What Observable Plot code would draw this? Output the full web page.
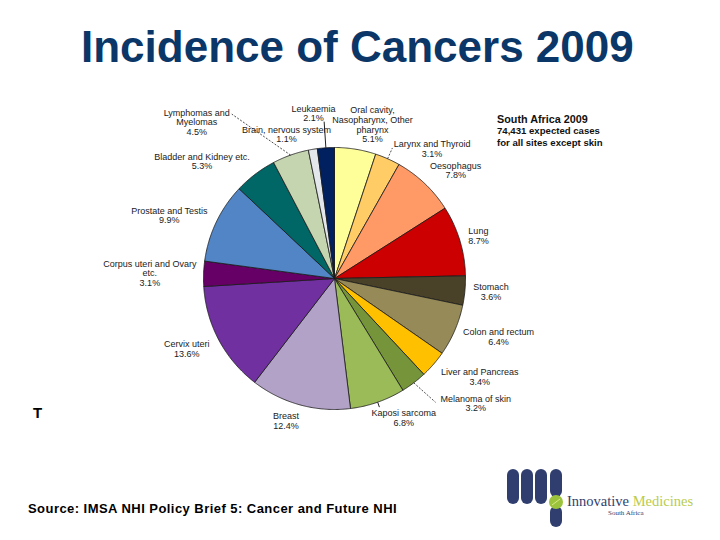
<!DOCTYPE html>
<html>
<head>
<meta charset="utf-8">
<script src="https://cdn.jsdelivr.net/npm/d3@7"></script>
<script src="https://cdn.jsdelivr.net/npm/@observablehq/plot@0.6"></script>
<style>
  html, body { margin: 0; padding: 0; background: #fff; }
  #page { position: relative; width: 720px; height: 540px; overflow: hidden; font-family: "Liberation Sans", Arial, sans-serif; }
  #title { position: absolute; left: 0; top: 0; width: 720px; height: 90px; }
  #title div { position: absolute; left: 81px; top: 22px; font-size: 44px; font-weight: bold; color: #0b3768; white-space: nowrap; }
  #chart { position: absolute; left: 0; top: 90px; }
  #note { position: absolute; left: 497px; top: 113px; color: #111; font-weight: bold; line-height: 12px; }
  #note .l1 { font-size: 10.8px; }
  #note .l2 { font-size: 9.6px; }
  #tmark { position: absolute; left: 33px; top: 404px; font-size: 15px; font-weight: bold; color: #000; }
  #source { position: absolute; left: 28px; top: 501px; font-size: 13px; letter-spacing: 0.45px; font-weight: bold; color: #000; white-space: nowrap; }
  #logo { position: absolute; left: 500px; top: 462px; }
</style>
</head>
<body>
<div id="page">
  <div id="title"><div>Incidence of Cancers 2009</div></div>
  <div id="chart"></div>
  <div id="note"><div class="l1">South Africa 2009</div><div class="l2">74,431 expected cases</div><div class="l2">for all sites except skin</div></div>
  <div id="tmark">T</div>
  <div id="source">Source: IMSA NHI Policy Brief 5: Cancer and Future NHI</div>
  <div id="logo">
    <svg width="220" height="70" viewBox="0 0 220 70">
      <rect x="7" y="7" width="12" height="35" rx="6" fill="#2f3e6e"/>
      <rect x="21" y="7" width="12" height="35" rx="6" fill="#2f3e6e"/>
      <rect x="35" y="7" width="12" height="35" rx="6" fill="#2f3e6e"/>
      <rect x="50" y="7" width="12" height="28" rx="6" fill="#2f3e6e"/>
      <rect x="50" y="44" width="12" height="21" rx="6" fill="#2f3e6e"/>
      <circle cx="56" cy="40" r="7" fill="#9cc33c"/>
      <line x1="52" y1="43" x2="60" y2="37" stroke="#d9ea8a" stroke-width="1"/>
      <text x="67" y="44" font-family="Liberation Serif, serif" font-size="14.5" fill="#2f3e6e">Innovative <tspan fill="#b9cc4e">Medicines</tspan></text>
      <text x="108" y="53" font-family="Liberation Serif, serif" font-size="7" fill="#2f3e6e">South Africa</text>
    </svg>
  </div>
</div>
<script>
// ---- data (clockwise from 12 o'clock) ----
const sites = [
  "Oral cavity,\nNasopharynx, Other\npharynx", "Larynx and Thyroid", "Oesophagus", "Lung",
  "Stomach", "Colon and rectum", "Liver and Pancreas", "Melanoma of skin",
  "Kaposi sarcoma", "Breast", "Cervix uteri", "Corpus uteri and Ovary\netc.",
  "Prostate and Testis", "Bladder and Kidney etc.", "Lymphomas and\nMyelomas",
  "Brain, nervous system", "Leukaemia"
];
const percents = [5.1, 3.1, 7.8, 8.7, 3.6, 6.4, 3.4, 3.2, 6.8, 12.4, 13.6, 3.1, 9.9, 5.3, 4.5, 1.1, 2.1];
const sliceColors = [
  "#ffff99", "#ffcc66", "#ff9966", "#cc0000", "#4a4129", "#968b58", "#ffc000", "#76953a",
  "#9bbb59", "#b3a2c7", "#7030a0", "#660066", "#5285c5", "#006666", "#c4d5b0", "#e3e6ea", "#002060"
];

// ---- label layout: angular shift (deg) from slice mid-angle and distance (in radii) ----
const labelShift = [4.7, 13, 4.7, 0.4, -0.3, -3.6, -6.7, -11.3, -7.1, 3.5, 2.4, -0.4, -4.5, -11.3, -21.8, -8.9, -3.5];
const labelDist  = [1.21, 1.24, 1.24, 1.145, 1.2, 1.33, 1.34, 1.44, 1.19, 1.15, 1.25, 1.41, 1.35, 1.35, 1.59, 1.16, 1.27];
// leader lines: slice index, end-angle shift (deg), end distance (radii), dashed
const leaderSlice = [16, 1, 14, 7, 8];
const leaderShift = [0, 0, -12.4, -2, 0];
const leaderDist  = [1.2, 1.09, 1.48, 1.22, 1.04];
const leaderDash  = [false, true, true, true, false];

// ---- geometry ----
const W = 720, H = 360, R = 131, cx = 334, cy = 188;
const total = d3.sum(percents);
const rad = d => d * Math.PI / 180;
let acc = 0;
const slices = percents.map((p, i) => {
  const a0 = acc / total * 360; acc += p; const a1 = acc / total * 360;
  return {i, name: sites[i], pct: p, a0, a1, mid: (a0 + a1) / 2};
});
const polar = (deg, r) => ({x: r * Math.sin(rad(deg)), y: r * Math.cos(rad(deg))});

const sliceRows = [];
for (const s of slices) {
  const n = Math.max(2, Math.ceil((s.a1 - s.a0) / 0.5));
  sliceRows.push({name: s.name, x: 0, y: 0});
  for (let k = 0; k <= n; k++) {
    const p = polar(s.a0 + (s.a1 - s.a0) * k / n, 1);
    sliceRows.push({name: s.name, ...p});
  }
  sliceRows.push({name: s.name, x: 0, y: 0});
}

const labelRows = slices.map((s, i) => {
  const p = polar(s.mid + labelShift[i], labelDist[i]);
  return {...p, text: s.name + "\n" + s.pct.toFixed(1) + "%"};
});

const leaderRows = leaderSlice.map((si, j) => {
  const s = slices[si];
  const p0 = polar(s.mid, 1.0);
  const p1 = polar(s.mid + leaderShift[j], leaderDist[j]);
  return {x1: p0.x, y1: p0.y, x2: p1.x, y2: p1.y, dashed: leaderDash[j]};
});

const chart = Plot.plot({
  width: W, height: H,
  margin: 0,
  x: {domain: [-cx / R, (W - cx) / R], axis: null},
  y: {domain: [-(H - cy) / R, cy / R], axis: null},
  color: {domain: sites, range: sliceColors},
  style: {fontFamily: "Liberation Sans, Arial, sans-serif", background: "transparent"},
  marks: [
    Plot.line(sliceRows, {x: "x", y: "y", z: "name", fill: "name", stroke: "#1a1a1a", strokeWidth: 0.8, curve: "linear", strokeLinejoin: "round"}),
    Plot.link(leaderRows.filter(d => d.dashed), {x1: "x1", y1: "y1", x2: "x2", y2: "y2", stroke: "#222", strokeWidth: 0.8, strokeDasharray: "2,1.5"}),
    Plot.link(leaderRows.filter(d => !d.dashed), {x1: "x1", y1: "y1", x2: "x2", y2: "y2", stroke: "#222", strokeWidth: 1}),
    Plot.text(labelRows, {x: "x", y: "y", text: "text", fontSize: 9, lineHeight: 1.08, fill: "#1a1a1a", textAnchor: "middle", lineAnchor: "middle"})
  ]
});
document.getElementById("chart").appendChild(chart);
</script>
</body>
</html>
